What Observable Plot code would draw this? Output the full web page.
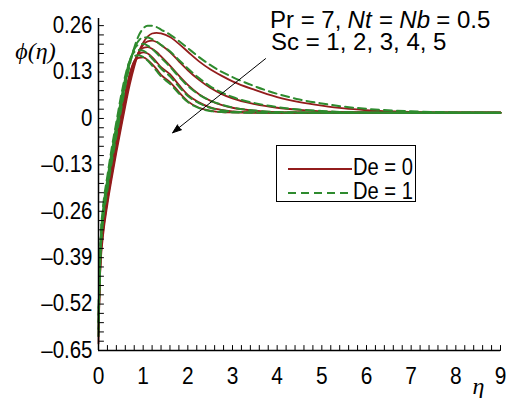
<!DOCTYPE html>
<html><head><meta charset="utf-8">
<script src="https://cdn.jsdelivr.net/npm/d3@7"></script>
<script src="https://cdn.jsdelivr.net/npm/@observablehq/plot@0.6"></script>
<style>
html,body{margin:0;padding:0;background:#fff;}
#chart{position:relative;width:512px;height:398px;}
</style></head><body><div id="chart"></div>
<script>
const eta = [0, 0.05, 0.1, 0.2, 0.3, 0.4, 0.5, 0.6, 0.7, 0.8, 0.9, 1.0, 1.1, 1.2, 1.3, 1.4, 1.6, 1.8, 2.0, 2.25, 2.5, 2.75, 3.0, 3.5, 4.0, 4.5, 5.0, 5.5, 6.0, 7.0, 8.0, 9.0];

// De = 0 (solid)
const sc1_de0 = [-0.55, -0.40, -0.33, -0.24, -0.165, -0.095, -0.03, 0.035, 0.095, 0.145, 0.185, 0.212, 0.229, 0.238, 0.24, 0.238, 0.228, 0.209, 0.187, 0.16, 0.138, 0.12, 0.104, 0.08, 0.06, 0.046, 0.036, 0.028, 0.023, 0.018, 0.016, 0.016];
const sc2_de0 = [-0.57, -0.39, -0.32, -0.23, -0.155, -0.085, -0.02, 0.045, 0.105, 0.152, 0.186, 0.206, 0.216, 0.218, 0.214, 0.206, 0.186, 0.16, 0.135, 0.108, 0.086, 0.069, 0.056, 0.04, 0.03, 0.024, 0.02, 0.018, 0.017, 0.016, 0.016, 0.016];
const sc3_de0 = [-0.59, -0.38, -0.31, -0.22, -0.145, -0.075, -0.01, 0.055, 0.113, 0.157, 0.185, 0.198, 0.2, 0.195, 0.186, 0.174, 0.148, 0.12, 0.094, 0.068, 0.05, 0.038, 0.03, 0.022, 0.018, 0.017, 0.016, 0.016, 0.016, 0.016, 0.016, 0.016];
const sc4_de0 = [-0.61, -0.37, -0.30, -0.21, -0.135, -0.065, 0.0, 0.065, 0.12, 0.16, 0.18, 0.185, 0.182, 0.172, 0.158, 0.144, 0.124, 0.094, 0.066, 0.045, 0.031, 0.024, 0.02, 0.017, 0.016, 0.016, 0.016, 0.016, 0.016, 0.016, 0.016, 0.016];
const sc5_de0 = [-0.63, -0.36, -0.29, -0.20, -0.125, -0.055, 0.01, 0.072, 0.126, 0.16, 0.17, 0.171, 0.164, 0.152, 0.138, 0.122, 0.102, 0.074, 0.048, 0.03, 0.022, 0.018, 0.017, 0.016, 0.016, 0.016, 0.016, 0.016, 0.016, 0.016, 0.016, 0.016];

// De = 1 (dashed)
const sc1_de1 = [-0.53, -0.37, -0.29, -0.2, -0.12, -0.05, 0.02, 0.09, 0.15, 0.198, 0.232, 0.252, 0.26, 0.26, 0.256, 0.249, 0.235, 0.217, 0.197, 0.172, 0.15, 0.131, 0.116, 0.09, 0.069, 0.053, 0.042, 0.033, 0.027, 0.02, 0.017, 0.016];
const sc2_de1 = [-0.55, -0.36, -0.28, -0.19, -0.11, -0.04, 0.03, 0.098, 0.155, 0.196, 0.218, 0.227, 0.227, 0.222, 0.215, 0.206, 0.188, 0.164, 0.14, 0.113, 0.09, 0.073, 0.06, 0.043, 0.032, 0.025, 0.021, 0.018, 0.017, 0.016, 0.016, 0.016];
const sc3_de1 = [-0.57, -0.35, -0.27, -0.18, -0.10, -0.03, 0.04, 0.106, 0.16, 0.194, 0.207, 0.209, 0.204, 0.195, 0.183, 0.17, 0.145, 0.117, 0.091, 0.067, 0.05, 0.039, 0.031, 0.022, 0.018, 0.017, 0.016, 0.016, 0.016, 0.016, 0.016, 0.016];
const sc4_de1 = [-0.59, -0.34, -0.26, -0.17, -0.09, -0.02, 0.05, 0.113, 0.163, 0.186, 0.192, 0.19, 0.181, 0.168, 0.154, 0.14, 0.118, 0.089, 0.063, 0.043, 0.03, 0.023, 0.019, 0.017, 0.016, 0.016, 0.016, 0.016, 0.016, 0.016, 0.016, 0.016];
const sc5_de1 = [-0.61, -0.33, -0.25, -0.16, -0.08, -0.01, 0.06, 0.12, 0.162, 0.175, 0.177, 0.172, 0.162, 0.148, 0.133, 0.118, 0.097, 0.07, 0.046, 0.029, 0.021, 0.018, 0.017, 0.016, 0.016, 0.016, 0.016, 0.016, 0.016, 0.016, 0.016, 0.016];

const xTicks = [0, 1, 2, 3, 4, 5, 6, 7, 8, 9];
const yTicks = [-0.65, -0.52, -0.39, -0.26, -0.13, 0, 0.13, 0.26];
const legendLabels = ["De = 0", "De = 1"];
const annotationLine1 = [["Pr = 7,", false], ["Nt", true], ["=", false], ["Nb", true], ["= 0.5", false]];
const annotationLine2 = "Sc = 1, 2, 3, 4, 5";
const arrowData = [{x1: 3.74, y1: 0.1675, x2: 1.66, y2: -0.04}];

const series = [
  [1, 0, sc1_de0], [2, 0, sc2_de0], [3, 0, sc3_de0], [4, 0, sc4_de0], [5, 0, sc5_de0],
  [1, 1, sc1_de1], [2, 1, sc2_de1], [3, 1, sc3_de1], [4, 1, sc4_de1], [5, 1, sc5_de1]
];
const rows = [];
for (const [sc, de, vals] of series) vals.forEach((v, i) => rows.push({eta: eta[i], phi: v, Sc: sc, De: de}));

const RED = "#931c1c", GREEN = "#2e8b2e";
const SANS = "'Liberation Sans', Arial, sans-serif";
const SERIF = "'Liberation Serif', 'Times New Roman', serif";
const xMinor = d3.range(0, 9.0001, 0.2);
const yMinor = d3.range(0, 36).map(k => -0.65 + k * 0.026);
const tickShape = {draw(ctx, l) { ctx.moveTo(0, 0); ctx.lineTo(0, -l); }};
const fmtY = d => d === 0 ? "0" : (d < 0 ? "\u2013" : "") + Math.abs(d).toFixed(2);

const plot = Plot.plot({
  width: 512, height: 398,
  marginLeft: 98, marginRight: 12, marginTop: 18, marginBottom: 48,
  style: {fontFamily: SANS, fontSize: "22px", color: "black", background: "white", overflow: "visible"},
  x: {domain: [0, 9]},
  y: {domain: [-0.65, 0.28]},
  marks: [
    Plot.line(rows.filter(d => d.De === 0), {x: "eta", y: "phi", z: "Sc", stroke: RED, strokeWidth: 1.8, curve: "monotone-x"}),
    Plot.line(rows.filter(d => d.De === 1), {x: "eta", y: "phi", z: "Sc", stroke: GREEN, strokeWidth: 2, strokeDasharray: "8,5", curve: "monotone-x"}),
    Plot.ruleX([0], {stroke: "black", strokeWidth: 1.5}),
    Plot.ruleY([-0.65], {stroke: "black", strokeWidth: 1.5}),
    Plot.vector(xMinor, {x: d => d, y: -0.65, length: 5, rotate: 0, anchor: "start", shape: tickShape, stroke: "black", strokeWidth: 1}),
    Plot.vector(yMinor, {x: 0, y: d => d, length: 5, rotate: 90, anchor: "start", shape: tickShape, stroke: "black", strokeWidth: 1}),
    Plot.axisX({ticks: xTicks, tickSize: 0, tickPadding: 16, tickFormat: d => String(d), label: null, fontSize: 24}),
    Plot.axisY({ticks: yTicks, tickSize: 0, tickPadding: 6, tickFormat: fmtY, label: null, fontSize: 23}),
    Plot.arrow(arrowData, {x1: "x1", y1: "y1", x2: "x2", y2: "y2", stroke: "black", fill: "black", strokeWidth: 1, headLength: 14, headAngle: 40}),
    Plot.text(["\u03b7"], {frameAnchor: "bottom-right", dx: -22, dy: 36, textAnchor: "middle", lineAnchor: "middle", fontFamily: SERIF, fontStyle: "italic", fontSize: 24}),
    Plot.text(["\u03d5(\u03b7)"], {frameAnchor: "top-left", dx: -63, dy: 33, textAnchor: "middle", lineAnchor: "middle", fontFamily: SERIF, fontStyle: "italic", fontSize: 24})
  ]
});
document.getElementById("chart").appendChild(plot);

const svg = d3.select(plot);
function condense(el, k, anchor) {
  const b = el.getBBox();
  const ax = anchor === "end" ? b.x + b.width : anchor === "start" ? b.x : b.x + b.width / 2;
  const t = el.getAttribute("transform") || "";
  el.setAttribute("transform", `${t} translate(${ax},0) scale(${k},1) translate(${-ax},0)`);
}
svg.selectAll('g[aria-label="x-axis tick label"] text').each(function() { condense(this, 0.87, "middle"); });
svg.selectAll('g[aria-label="y-axis tick label"] text').each(function() { condense(this, 0.89, "end"); });

// annotation (separate text pieces, laid out side by side with a space between)
const ann = svg.append("g").attr("font-family", SANS).attr("font-size", 24).attr("fill", "black").attr("text-anchor", "start");
let cx = 270;
for (const [s, it] of annotationLine1) {
  const t = ann.append("text").attr("x", cx).attr("y", 28).attr("font-style", it ? "italic" : "normal").text(s);
  const b = t.node().getBBox();
  cx = b.x + b.width + 6.2;
}
ann.append("text").attr("x", 271).attr("y", 50).text(annotationLine2);

const lg = svg.append("g").attr("font-family", SANS).attr("font-size", 24).attr("text-anchor", "start").attr("fill", "black");
lg.append("rect").attr("x", 276.5).attr("y", 145.5).attr("width", 139).attr("height", 56).attr("fill", "white").attr("stroke", "black").attr("stroke-width", 1);
lg.append("line").attr("x1", 288).attr("x2", 352).attr("y1", 169).attr("y2", 169).attr("stroke", RED).attr("stroke-width", 1.8);
lg.append("line").attr("x1", 288).attr("x2", 352).attr("y1", 193).attr("y2", 193).attr("stroke", GREEN).attr("stroke-width", 2).attr("stroke-dasharray", "8,5");
lg.append("text").attr("x", 353).attr("y", 175).text(legendLabels[0]).each(function() { condense(this, 0.84, "start"); });
lg.append("text").attr("x", 353).attr("y", 199).text(legendLabels[1]).each(function() { condense(this, 0.84, "start"); });
</script></body></html>
